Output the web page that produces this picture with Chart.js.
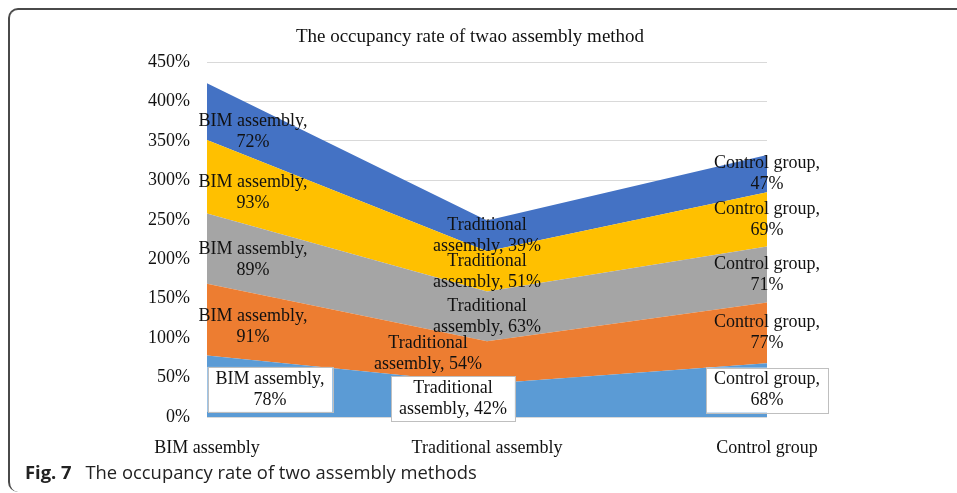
<!DOCTYPE html>
<html>
<head>
<meta charset="utf-8">
<script src="https://cdn.jsdelivr.net/npm/chart.js@4"></script>
<style>
body { margin:0; background:#fff; width:957px; height:493px; overflow:hidden; position:relative; }
#frame { position:absolute; left:8px; top:8px; width:1000px; height:482px; border-top:2px solid #4a4a4a; border-left:2px solid #4a4a4a; border-top-left-radius:10px; border-bottom-left-radius:10px; }
#wrap { position:absolute; left:0; top:0; width:957px; height:460px; }
#caption { position:absolute; left:25px; top:459px; font-family:"Open Sans", sans-serif; font-size:18.4px; color:#222; white-space:nowrap; }
#caption b { font-weight:700; margin-right:9px; }
</style>
</head>
<body>
<div id="frame"></div>
<div id="wrap"><canvas id="areaChart"></canvas></div>
<div id="caption"><b>Fig. 7</b> The occupancy rate of two assembly methods</div>
<script>
// data
const categories = ['BIM assembly', 'Traditional assembly', 'Control group'];
const series1 = [78, 42, 68];
const series2 = [91, 54, 77];
const series3 = [89, 63, 71];
const series4 = [93, 51, 69];
const series5 = [72, 39, 47];
const yTicks = [0, 50, 100, 150, 200, 250, 300, 350, 400, 450];
const labelHeads = [['BIM assembly,', ''], ['Traditional', 'assembly, '], ['Control group,', '']];
const chartTitle = 'The occupancy rate of twao assembly method';

const colors = ['#5B9BD5', '#ED7D31', '#A5A5A5', '#FFC000', '#4472C4'];
const allSeries = [series1, series2, series3, series4, series5];
// horizontal nudges of the data labels (excel keeps first-column labels inside the plot)
const labelShift = [
    [63, -34, 0],
    [46, -59, 0],
    [46, 0, 0],
    [46, 0, 0],
    [46, 0, 0]
];

const serif = "'Liberation Serif', 'Times New Roman', serif";

// title sits centred over the whole figure, not just the plot
const titlePlugin = {
    id: 'figTitle',
    afterDraw(chart) {
        const c = chart.ctx;
        c.save();
        c.font = '19px ' + serif;
        c.fillStyle = '#111';
        c.textAlign = 'center';
        c.textBaseline = 'middle';
        c.fillText(chartTitle, 470, 37);
        c.restore();
    }
};

// draws "Category, xx%" labels at the middle of each band
const bandLabels = {
    id: 'bandLabels',
    afterDatasetsDraw(chart) {
        const ctx = chart.ctx;
        const yScale = chart.scales.y;
        ctx.save();
        ctx.font = '18px ' + serif;
        ctx.textAlign = 'center';
        ctx.textBaseline = 'middle';
        chart.data.datasets.forEach((ds, i) => {
            const top = chart.getDatasetMeta(i).data;
            const bottom = i > 0 ? chart.getDatasetMeta(i - 1).data : null;
            const y0 = yScale.getPixelForValue(0);
            ds.data.forEach((v, j) => {
                const x = top[j].x + labelShift[i][j];
                let k = 0;
                while (k < top.length - 2 && x > top[k + 1].x) k++;
                const t = (x - top[k].x) / (top[k + 1].x - top[k].x);
                const yt = top[k].y + t * (top[k + 1].y - top[k].y);
                const yb = bottom ? bottom[k].y + t * (bottom[k + 1].y - bottom[k].y) : y0;
                const y = (yt + yb) / 2;
                const head = labelHeads[j];
                const lines = [head[0], head[1] + v + '%'];
                const lh = 21;
                if (i === 0) {
                    const w = Math.max(ctx.measureText(lines[0]).width, ctx.measureText(lines[1]).width) + 16;
                    const h = lh * 2 + 3;
                    ctx.fillStyle = '#fff';
                    ctx.fillRect(x - w / 2, y - h / 2, w, h);
                    ctx.strokeStyle = '#BFBFBF';
                    ctx.lineWidth = 1;
                    ctx.strokeRect(Math.round(x - w / 2) + 0.5, Math.round(y - h / 2) + 0.5, Math.round(w), Math.round(h));
                }
                ctx.fillStyle = '#111';
                ctx.fillText(lines[0], x, y - lh / 2);
                ctx.fillText(lines[1], x, y + lh / 2);
            });
        });
        ctx.restore();
    }
};

const ctx = document.getElementById('areaChart').getContext('2d');
new Chart(ctx, {
    type: 'line',
    data: {
        labels: categories,
        datasets: allSeries.map((d, i) => ({
            label: 'Series' + (i + 1),
            data: d,
            backgroundColor: colors[i],
            borderColor: colors[i],
            borderWidth: 0,
            pointRadius: 0,
            tension: 0,
            fill: i === 0 ? 'origin' : '-1'
        }))
    },
    options: {
        responsive: true,
        maintainAspectRatio: false,
        animation: false,
        layout: { padding: { left: 0, right: 190, top: 62, bottom: 0 } },
        plugins: {
            legend: { display: false },
            tooltip: { enabled: false },
            title: { display: false }
        },
        scales: {
            x: {
                offset: false,
                grid: { display: false },
                border: { display: false },
                ticks: { color: '#111', font: { family: serif, size: 18 }, padding: 12, maxRotation: 0, autoSkip: false },
                afterFit: s => { s.height = 43; }
            },
            y: {
                stacked: true,
                min: 0,
                max: 450,
                afterBuildTicks: s => { s.ticks = yTicks.map(v => ({ value: v })); },
                grid: { color: '#D9D9D9', drawTicks: false },
                border: { display: false },
                ticks: { color: '#111', font: { family: serif, size: 18 }, padding: 17, callback: v => v + '%' },
                afterFit: s => { s.width = 207; }
            }
        }
    },
    plugins: [bandLabels, titlePlugin]
});
</script>
</body>
</html>
